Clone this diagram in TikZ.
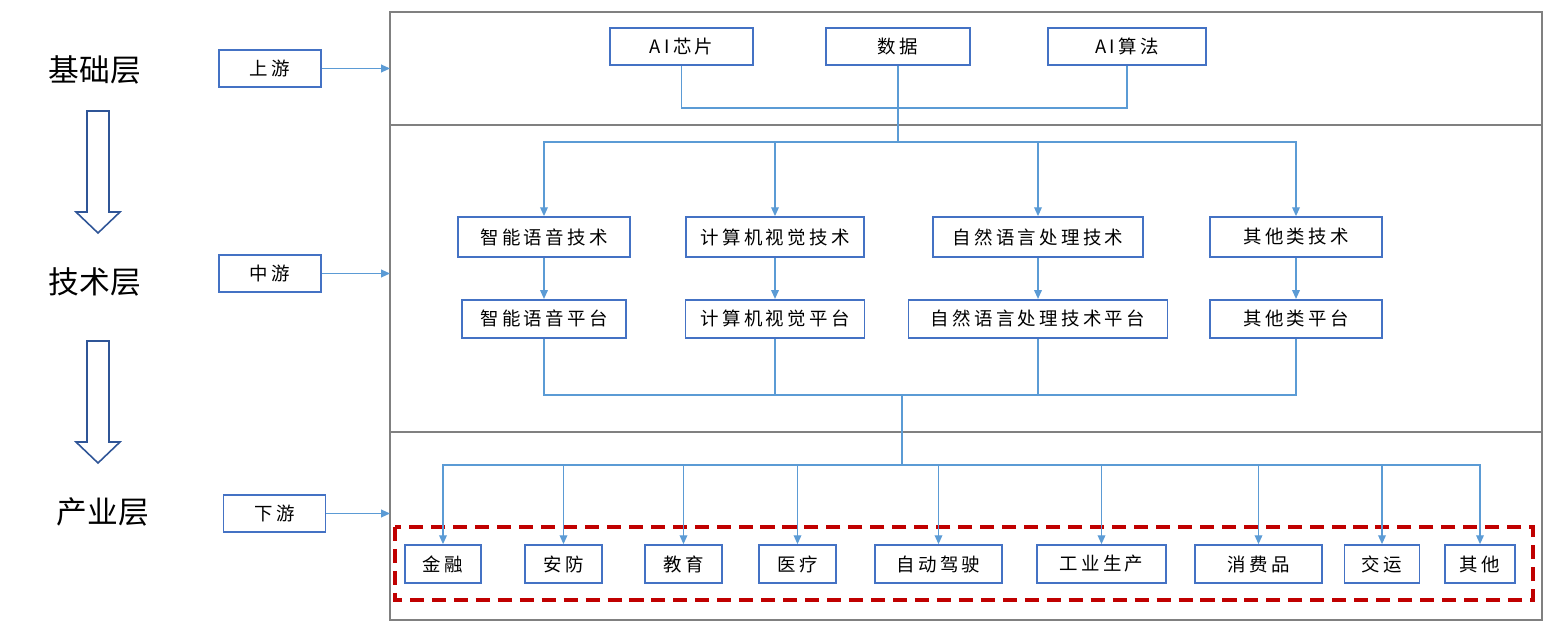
\documentclass[tikz,border=0pt]{standalone}
\usepackage{fontspec}
\usepackage{tikz}
\usetikzlibrary{positioning, arrows.meta}
\newfontfamily\cjk[LetterSpace=18]{Noto Sans CJK SC}
\newfontfamily\cjklayer{Noto Sans CJK SC}
\definecolor{boxblue}{HTML}{4472C4}
\definecolor{linkblue}{HTML}{5B9BD5}
\definecolor{panelgray}{HTML}{808080}
\definecolor{dashred}{HTML}{C00000}
\definecolor{hollowblue}{HTML}{2F5597}
\tikzset{
>={Triangle[length=5pt,width=4.4pt]}, % small filled arrow heads
box/.style={draw=boxblue, line width=1.05pt, inner sep=0pt, fill=white, font=\fontsize{10.5pt}{12pt}\cjk},
link/.style={draw=linkblue, line width=0.65pt}, % connectors between boxes
layer/.style={font=\fontsize{17.5pt}{20pt}\cjklayer},
panel/.style={draw=panelgray, line width=0.8pt},
}
\begin{document}
\begin{tikzpicture}[x=0.02cm, y=-0.02cm]
\useasboundingbox (0,0) rectangle (1552,634);

% panels
\draw[panel] (390,12) rectangle (1542,620);
\draw[panel] (390,125) -- (1542,125);
\draw[panel, line width=1.1pt] (390,432) -- (1542,432);
\coordinate (edge) at (390,0);
\draw[dashred, line width=2.2pt, dash pattern=on 8pt off 4.5pt] (395,527) rectangle (1533,600);

% layers on the left
\node[layer] (base) at (95,70) {基础层};
\node[layer] (tech) at (95,282) {技术层};
\node[layer] (ind) at (103,512) {产业层};
\draw[hollowblue, line width=0.9pt] (87,111) -- (109,111) -- (109,212) -- (120,212) -- (98,233) -- (76,212) -- (87,212) -- cycle;
\draw[hollowblue, line width=0.9pt] (87,341) -- (109,341) -- (109,442) -- (120,442) -- (98,463) -- (76,442) -- (87,442) -- cycle;

\node[box, minimum width=2.04cm, minimum height=0.74cm] (up) at (270,68.5) {上游};
\node[box, minimum width=2.04cm, minimum height=0.74cm] (mid) at (270,273.5) {中游};
\node[box, minimum width=2.04cm, minimum height=0.74cm] (down) at (274.5,513.5) {下游};
\draw[link,->] (up.east) -- (up.east -| edge);
\draw[link,->] (mid.east) -- (mid.east -| edge);
\draw[link,->] (down.east) -- (down.east -| edge);

% upstream
\node[box, minimum width=2.86cm, minimum height=0.74cm] (chip) at (681.5,46.5) {AI芯片};
\node[box, minimum width=2.88cm, minimum height=0.74cm] (data) at (898,46.5) {数据};
\node[box, minimum width=3.16cm, minimum height=0.74cm] (algo) at (1127,46.5) {AI算法};
\coordinate (jtop) at (898,108);
\coordinate (jsplit) at (898,142);
\draw[link] (chip.south) |- (jtop) -| (algo.south);
\draw[link] (data.south) -- (jsplit);

% midstream
\node[box, minimum width=3.44cm, minimum height=0.8cm] (voice) at (544,237) {智能语音技术};
\node[box, minimum width=3.56cm, minimum height=0.8cm] (cv) at (775,237) {计算机视觉技术};
\node[box, minimum width=4.2cm, minimum height=0.8cm] (nlp) at (1038,237) {自然语言处理技术};
\node[box, minimum width=3.44cm, minimum height=0.8cm] (other) at (1296,237) {其他类技术};
\node[box, minimum width=3.28cm, minimum height=0.76cm, below=0.82cm of voice] (voicep) {智能语音平台};
\node[box, minimum width=3.58cm, minimum height=0.76cm, below=0.82cm of cv] (cvp) {计算机视觉平台};
\node[box, minimum width=5.18cm, minimum height=0.76cm, below=0.82cm of nlp] (nlpp) {自然语言处理技术平台};
\node[box, minimum width=3.44cm, minimum height=0.76cm, below=0.82cm of other] (otherp) {其他类平台};
\draw[link,->] (jsplit) -| (voice.north);
\draw[link,->] (jsplit) -| (cv.north);
\draw[link,->] (jsplit) -| (nlp.north);
\draw[link,->] (jsplit) -| (other.north);
\draw[link,->] (voice) -- (voicep);
\draw[link,->] (cv) -- (cvp);
\draw[link,->] (nlp) -- (nlpp);
\draw[link,->] (other) -- (otherp);
\coordinate (jmid) at (902,395);
\coordinate (jbot) at (902,465);
\draw[link] (voicep.south) |- (jmid);
\draw[link] (cvp.south) |- (jmid);
\draw[link] (nlpp.south) |- (jmid);
\draw[link] (otherp.south) |- (jmid);
\draw[link] (jmid) -- (jbot);

% downstream
\node[box, minimum width=1.52cm, minimum height=0.76cm] (fin) at (443,564) {金融};
\node[box, minimum width=1.54cm, minimum height=0.76cm] (sec) at (563.5,564) {安防};
\node[box, minimum width=1.54cm, minimum height=0.76cm] (edu) at (683.5,564) {教育};
\node[box, minimum width=1.54cm, minimum height=0.76cm] (med) at (797.5,564) {医疗};
\node[box, minimum width=2.54cm, minimum height=0.76cm] (auto) at (938.5,564) {自动驾驶};
\node[box, minimum width=2.58cm, minimum height=0.76cm] (prod) at (1101.5,564) {工业生产};
\node[box, minimum width=2.54cm, minimum height=0.76cm] (cons) at (1258.5,564) {消费品};
\node[box, minimum width=1.5cm, minimum height=0.76cm] (traf) at (1382,564) {交运};
\node[box, minimum width=1.4cm, minimum height=0.76cm] (rest) at (1480,564) {其他};
\draw[link,->] (jbot) -| (fin.north);
\draw[link,->] (jbot) -| (sec.north);
\draw[link,->] (jbot) -| (edu.north);
\draw[link,->] (jbot) -| (med.north);
\draw[link,->] (jbot) -| (auto.north);
\draw[link,->] (jbot) -| (prod.north);
\draw[link,->] (jbot) -| (cons.north);
\draw[link,->] (jbot) -| (traf.north);
\draw[link,->] (jbot) -| (rest.north);

\end{tikzpicture}
\end{document}
